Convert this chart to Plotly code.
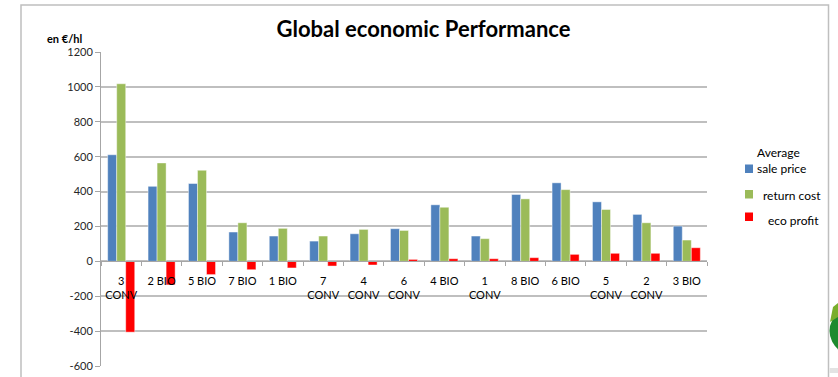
import plotly.graph_objects as go

# Farms / production systems (Excel-style wrapped category labels)
categories = ["3<br>CONV", "2 BIO", "5 BIO", "7 BIO", "1 BIO", "7<br>CONV", "4<br>CONV",
              "6<br>CONV", "4 BIO", "1<br>CONV", "8 BIO", "6 BIO", "5<br>CONV", "2<br>CONV", "3 BIO"]

# Values in €/hl
sale_price = [611, 430, 446, 168, 145, 116, 158, 187, 324, 145, 383, 450, 341, 269, 202]
return_cost = [1018, 564, 522, 221, 189, 145, 183, 177, 310, 130, 358, 411, 297, 221, 122]
eco_profit = [-406, -135, -76, -48, -38, -27, -21, 11, 15, 15, 21, 40, 46, 46, 78]

series_names = ["Average<br>sale price", "return cost", "eco profit"]
series_colors = ["#4F81BD", "#9BBB59", "#FF0000"]

y_ticks = [-600, -400, -200, 0, 200, 400, 600, 800, 1000, 1200]

W, H = 838, 377
L, R, T, B = 101, 707, 52, 366  # plot area in pixels


def px(x):
    return (x - L) / (R - L)


def py(y):
    return (B - y) / (B - T)


FONT = "Lato, Carlito, Calibri, sans-serif"
edge = dict(color="rgba(255,255,255,0.55)", width=0.8)

fig = go.Figure()
for name, vals, col in zip(series_names, [sale_price, return_cost, eco_profit], series_colors):
    fig.add_trace(go.Bar(x=categories, y=vals, name=name.replace("<br>", " "),
                         marker=dict(color=col, line=edge)))

shapes = [
    # chart frame
    dict(type="rect", xref="paper", yref="paper",
         x0=px(21), x1=px(828.5), y0=py(5), y1=py(390),
         line=dict(color="#BFBFBF", width=1.5), fillcolor="rgba(0,0,0,0)", layer="below"),
    # decorative green disc at right edge
    dict(type="circle", xref="paper", yref="paper",
         x0=px(829.5), x1=px(901), y0=py(303), y1=py(359),
         line=dict(width=0), fillcolor="#1E8A2E"),
    dict(type="path", xref="paper", yref="paper",
         path=f"M {px(830)},{py(322)} L {px(838)},{py(317)} L {px(838)},{py(303)} "
              f"L {px(833)},{py(307)} Z",
         line=dict(width=0), fillcolor="#79AE2C"),
    dict(type="rect", xref="paper", yref="paper",
         x0=px(829.5), x1=px(840), y0=py(373), y1=py(368),
         line=dict(width=0), fillcolor="#E3E3E3"),
]

annotations = [dict(text="<b>en €/hl</b>", xref="paper", yref="paper",
                    x=px(45), y=py(38), xanchor="left", yanchor="middle",
                    showarrow=False, font=dict(family=FONT, size=11, color="black"))]

# legend drawn as keys + labels (marker square top y, label left x, label centre y)
legend_rows = [(164.5, 755, 160), (190, 761, 195), (212.5, 766, 220)]
for (sq_top, tx, ty), name, col in zip(legend_rows, series_names, series_colors):
    shapes.append(dict(type="rect", xref="paper", yref="paper",
                       x0=px(745), x1=px(753), y0=py(sq_top), y1=py(sq_top + 8.5),
                       line=dict(width=0), fillcolor=col))
    annotations.append(dict(text=name, xref="paper", yref="paper", x=px(tx), y=py(ty),
                            xanchor="left", yanchor="middle", align="left", showarrow=False,
                            font=dict(family=FONT, size=12, color="black")))

fig.update_layout(
    width=W, height=H,
    margin=dict(l=L, r=W - R, t=T, b=H - B, pad=0, autoexpand=False),
    paper_bgcolor="white", plot_bgcolor="white",
    font=dict(family=FONT, color="#404040", size=11),
    title=dict(text="<b>Global economic Performance</b>", x=423.5 / W, xref="container",
               xanchor="center", y=1 - 29 / H, yanchor="middle", yref="container",
               font=dict(family=FONT, size=22, color="black")),
    barmode="group", bargap=0.33, bargroupgap=0,
    showlegend=False,
    xaxis=dict(type="category", anchor="free", position=1 / 3,
               showline=True, linecolor="#A6A6A6", linewidth=1,
               ticks="outside", tickson="boundaries", ticklen=4, tickcolor="#A6A6A6",
               showgrid=False, zeroline=False, ticklabelstandoff=9,
               tickfont=dict(family=FONT, size=11, color="black"), tickangle=0),
    yaxis=dict(range=[-600, 1200], tickvals=y_ticks, ticktext=[str(v) for v in y_ticks],
               showline=True, linecolor="#A6A6A6", linewidth=1,
               ticks="outside", ticklen=5, tickcolor="#A6A6A6",
               showgrid=True, gridcolor="#BFBFBF", gridwidth=1.5,
               zeroline=False, tickfont=dict(family=FONT, size=11, color="#262626")),
    shapes=shapes,
    annotations=annotations,
)

fig.write_html("out.html")
